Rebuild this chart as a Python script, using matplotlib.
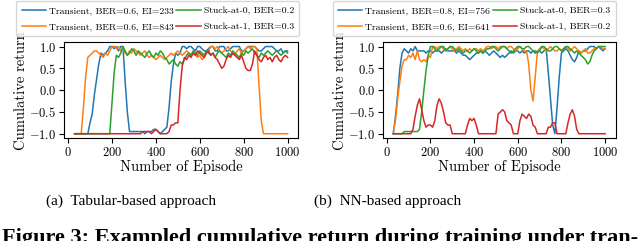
import numpy as np
import matplotlib
matplotlib.use("Agg")
import matplotlib.pyplot as plt

plt.rcParams['font.family'] = 'serif'
plt.rcParams['font.serif'] = ['cmr10']
plt.rcParams['mathtext.fontset'] = 'cm'
plt.rcParams['axes.formatter.use_mathtext'] = True

# ---------------- data (episode 30..1000, step 10) ----------------
tab_blue = [
    -1, -1, -1, -1, -1, -1, -1, -0.75, -0.55, -0.1,
    0.25, 0.6, 0.85, 0.8, 0.85, 0.9, 1.0, 1.0, 0.95, 1.0,
    0.9, 1.0, 1.0, 0.2, -0.5, -0.95, -0.95, -0.95, -0.95, -0.95,
    -0.95, -0.95, -1.0, -0.95, -0.95, -0.95, -0.9, -0.9, -0.95, -1.0,
    -0.95, -0.9, -0.85, -0.4, 0.2, 0.6, 0.85, 0.8, 0.85, 1.0,
    1.0, 0.95, 1.0, 1.0, 0.95, 0.9, 1.0, 1.0, 0.95, 0.9,
    0.9, 0.95, 1.0, 1.0, 0.9, 0.9, 1.0, 1.0, 1.0, 0.9,
    0.9, 0.95, 1.0, 1.0, 1.0, 1.0, 0.9, 0.9, 0.95, 1.0,
    1.0, 1.0, 1.0, 0.95, 0.9, 0.9, 0.95, 1.0, 1.0, 1.0,
    1.0, 0.95, 0.9, 0.9, 0.95, 0.85, 0.9, 0.9]
tab_orange = [
    -1, -1, -1, -1, -0.4, 0.3, 0.75, 0.8, 0.85, 0.9,
    0.9, 0.85, 0.8, 0.75, 0.85, 0.8, 0.9, 1.0, 1.0, 0.95,
    1.0, 0.9, 0.95, 0.85, 0.8, 0.9, 0.85, 0.95, 0.9, 0.85,
    0.8, 0.85, 0.9, 0.8, 0.75, 0.8, 0.75, 0.7, 0.75, 0.8,
    0.75, 0.7, 0.75, 0.8, 0.85, 0.8, 0.85, 0.9, 0.85, 0.8,
    0.85, 0.9, 0.85, 0.8, 0.85, 0.8, 0.75, 0.8, 0.7, 0.75,
    0.85, 0.9, 1.0, 1.0, 0.95, 1.0, 0.9, 0.85, 0.9, 0.95,
    1.0, 0.9, 0.85, 0.8, 0.9, 0.95, 0.85, 0.9, 0.95, 1.0,
    0.95, 1.0, 1.0, 0.95, 0.1, -0.7, -1, -1, -1, -1,
    -1, -1, -1, -1, -1, -1, -1, -1]
tab_green = [
    -1, -1, -1, -1, -1, -1, -1, -1, -1, -1,
    -1, -1, -1, -1, -1, -1, -1, -0.3, 0.4, 0.8,
    0.75, 0.85, 1.0, 0.9, 0.8, 0.85, 0.95, 0.9, 0.8, 0.9,
    0.85, 0.8, 0.75, 0.85, 0.9, 0.8, 0.75, 0.85, 0.8, 0.9,
    0.85, 0.75, 0.7, 0.6, 0.65, 0.7, 0.6, 0.55, 0.65, 0.6,
    0.7, 0.8, 0.85, 0.8, 0.9, 0.85, 0.8, 0.9, 0.85, 0.8,
    0.9, 0.85, 0.8, 0.85, 0.75, 0.85, 0.9, 0.85, 0.8, 0.75,
    0.85, 0.8, 0.9, 0.85, 0.8, 0.75, 0.85, 0.8, 0.9, 0.85,
    0.9, 0.95, 0.85, 0.8, 0.75, 0.85, 0.8, 0.85, 0.9, 0.85,
    0.8, 0.85, 0.9, 0.85, 0.8, 0.85, 0.9, 0.85]
tab_red = [
    -1, -1, -1, -1, -1, -1, -1, -1, -1, -1,
    -1, -1, -1, -1, -1, -1, -1, -1, -1, -1,
    -1, -1, -1, -1, -1, -1, -1, -1, -1, -1,
    -1, -0.95, -0.95, -0.95, -0.95, -1, -0.95, -0.9, -0.95, -1,
    -1, -1, -1, -0.95, -0.8, -0.8, -0.75, -0.75, 0.0, 0.55,
    0.75, 0.7, 0.8, 0.75, 0.85, 0.8, 0.9, 0.85, 0.8, 0.75,
    0.85, 0.9, 0.8, 0.85, 0.75, 0.7, 0.6, 0.5, 0.55, 0.7,
    0.8, 0.75, 0.85, 0.8, 0.75, 0.7, 0.8, 0.65, 0.5, 0.45,
    0.45, 0.6, 0.9, 0.8, 0.7, 0.65, 0.75, 0.8, 0.7, 0.75,
    0.65, 0.75, 0.8, 0.7, 0.65, 0.75, 0.8, 0.75]

nn_blue = [
    -1.0, -0.6, -0.1, 0.5, 0.85, 0.95, 0.9, 0.85, 0.95, 0.9,
    1.0, 0.9, 0.9, 0.9, 0.9, 0.85, 0.9, 0.9, 0.85, 0.9,
    0.9, 0.9, 0.85, 0.9, 0.95, 0.9, 0.9, 0.9, 0.9, 0.85,
    0.9, 0.85, 0.8, 0.8, 0.75, 0.7, 0.75, 0.8, 0.85, 0.85,
    0.9, 0.85, 0.9, 0.85, 0.8, 0.85, 0.9, 0.85, 0.8, 0.75,
    0.8, 0.75, 0.8, 0.85, 0.9, 0.85, 0.9, 0.9, 0.85, 0.9,
    0.85, 0.9, 0.9, 0.85, 0.9, 0.85, 0.9, 0.9, 0.85, 0.9,
    0.95, 0.4, -0.2, -0.8, -1.0, -0.4, 0.3, 0.85, 0.9, 0.95,
    0.9, 0.8, 0.7, 0.65, 0.75, 0.9, 0.85, 0.9, 0.9, 0.95,
    1.0, 1.0, 1.0, 0.95, 1.0, 0.95, 0.9, 0.95]
nn_orange = [
    -0.95, -0.7, -0.2, 0.2, 0.55, 0.7, 0.7, 0.8, 0.75, 0.85,
    0.7, 0.9, 0.7, 0.65, 0.7, 0.65, 0.8, 0.75, 1.0, 1.0,
    0.95, 1.0, 1.0, 0.95, 0.9, 0.95, 1.0, 0.95, 0.9, 0.95,
    1.0, 0.95, 0.9, 0.95, 0.9, 0.95, 0.9, 0.95, 0.95, 0.9,
    0.95, 0.9, 0.95, 1.0, 1.0, 0.95, 1.0, 1.0, 0.95, 1.0,
    1.0, 1.0, 0.95, 1.0, 1.0, 0.95, 0.9, 0.95, 1.0, 0.95,
    0.9, 0.9, 0.6, 0.0, -0.25, 0.3, 0.9, 0.95, 1.0, 0.95,
    0.9, 0.95, 1.0, 0.95, 0.9, 0.9, 0.95, 0.9, 0.95, 1.0,
    0.95, 0.9, 0.95, 1.0, 0.95, 0.9, 0.85, 0.9, 0.95, 0.85,
    0.85, 0.9, 0.95, 0.95, 1.0, 1.0, 0.95, 0.95]
nn_green = [
    -1, -1, -1, -1, -1, -0.95, -0.95, -0.95, -0.95, -0.95,
    -0.95, -0.95, -0.9, -0.5, 0.0, 0.45, 0.8, 1.0, 1.0, 0.95,
    0.9, 0.95, 1.0, 1.0, 0.9, 0.95, 1.0, 1.0, 0.95, 0.9,
    0.95, 0.9, 0.85, 0.9, 0.9, 0.85, 0.9, 0.95, 0.9, 0.85,
    0.9, 0.85, 0.9, 0.95, 0.95, 1.0, 1.0, 0.95, 0.9, 0.95,
    1.0, 1.0, 0.95, 0.9, 0.85, 0.9, 0.95, 1.0, 1.0, 0.95,
    0.95, 1.0, 1.0, 0.95, 0.9, 0.9, 0.85, 0.9, 1.0, 1.0,
    0.95, 0.9, 0.9, 0.95, 1.0, 1.0, 0.95, 0.9, 0.95, 1.0,
    1.0, 0.95, 0.9, 0.85, 0.9, 0.85, 0.8, 0.75, 0.7, 0.6,
    0.65, 0.8, 0.9, 0.95, 1.0, 1.0, 1.0, 1.0]
nn_red = [
    -1, -1, -1, -1, -1, -1, -1, -1, -1, -0.9,
    -0.6, -0.35, -0.2, -0.45, -0.7, -0.85, -0.8, -0.8, -0.85, -0.7,
    -0.35, -0.2, -0.3, -0.5, -0.75, -0.8, -0.8, -1.0, -1.0, -1.0,
    -1.0, -1.0, -1.0, -1.0, -0.8, -0.65, -0.7, -0.65, -0.8, -1.0,
    -1.0, -1.0, -1.0, -1.0, -1.0, -1.0, -1.0, -1.0, -0.55, -0.5,
    -0.45, -0.5, -0.7, -0.75, -0.8, -1.0, -1.0, -1.0, -0.7, -0.55,
    -0.6, -0.65, -0.55, -0.6, -0.8, -0.85, -1.0, -1.0, -1.0, -1.0,
    -1.0, -0.85, -0.85, -0.75, -0.75, -1.0, -1.0, -1.0, -1.0, -1.0,
    -0.75, -0.55, -0.45, -0.6, -0.9, -1.0, -1.0, -1.0, -1.0, -1.0,
    -1, -1, -1, -1, -1, -1, -1, -1]

labels_tab = ["Transient, BER=0.6, EI=233", "Transient, BER=0.6, EI=843",
              "Stuck-at-0, BER=0.2", "Stuck-at-1, BER=0.3"]
labels_nn = ["Transient, BER=0.8, EI=756", "Transient, BER=0.6, EI=641",
             "Stuck-at-0, BER=0.3", "Stuck-at-1, BER=0.2"]
xticks = [0, 200, 400, 600, 800, 1000]
yticks = [-1.0, -0.5, 0.0, 0.5, 1.0]

colors = ['#1f77b4', '#ff7f0e', '#2ca02c', '#d62728']

fig = plt.figure(figsize=(6.4, 2.41), dpi=100)
ax1 = fig.add_axes([0.100, 0.427, 0.366, 0.398])
ax2 = fig.add_axes([0.598, 0.427, 0.364, 0.398])

def draw(ax, series, labels, lx):
    for s, lab, c in zip(series, labels, colors):
        ep = 30 + 10 * np.arange(len(s))
        ax.plot(ep, s, color=c, lw=1.1, label=lab)
    ax.set_xticks(xticks)
    ax.set_yticks(yticks)
    ax.tick_params(labelsize=9, length=3.5, pad=2)
    ax.set_xlabel("Number of Episode", fontsize=10.5, labelpad=1)
    ax.set_ylabel("Cumulative return", fontsize=10.5, labelpad=1)
    leg = ax.legend(loc='lower center', bbox_to_anchor=(lx, 1.06), ncol=2,
                    fontsize=7, handlelength=2.5, handletextpad=0.3,
                    columnspacing=0.3, borderpad=0.55, labelspacing=0.7,
                    borderaxespad=0.0)
    leg.set_zorder(10)

draw(ax1, [tab_blue, tab_orange, tab_green, tab_red], labels_tab, 0.40)
draw(ax2, [nn_blue, nn_orange, nn_green, nn_red], labels_nn, 0.393)

fig.text(0.204, 0.166, "(a)  Tabular-based approach", ha='center', va='center',
         fontsize=11, family='Liberation Serif')
fig.text(0.606, 0.166, "(b)  NN-based approach", ha='center', va='center',
         fontsize=11, family='Liberation Serif')
fig.text(0.5, 0.054, "Figure 3: Exampled cumulative return during training under tran-",
         ha='center', va='top', fontsize=16, fontweight='bold',
         family='Liberation Serif')

fig.savefig("out.png", dpi=100)
